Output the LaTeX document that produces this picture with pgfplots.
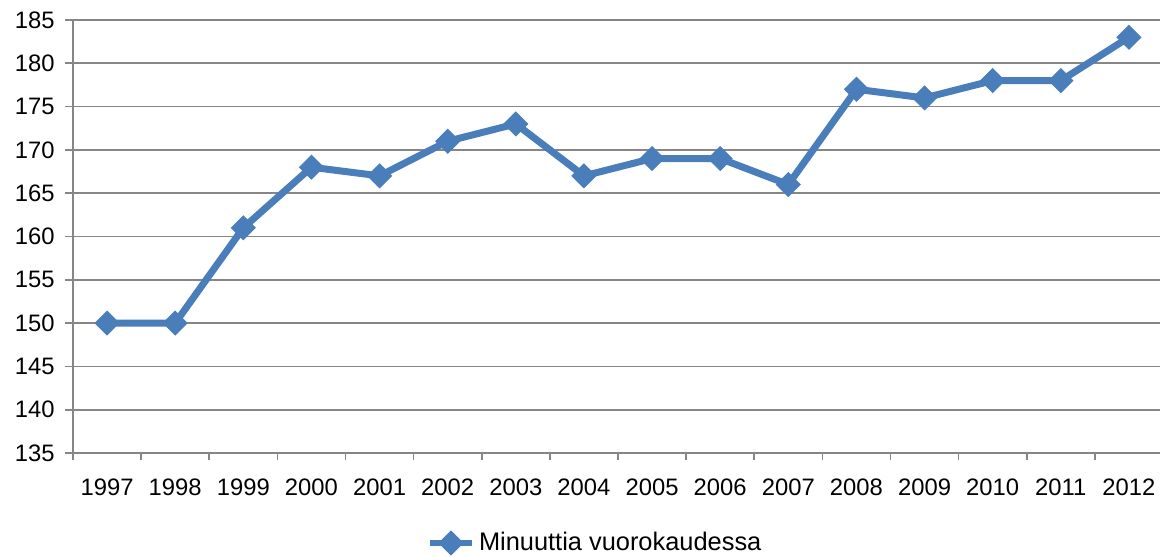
\documentclass[border=0pt]{standalone}
\usepackage{pgfplots}
\pgfplotsset{compat=1.18}
\usepackage{fontspec}
\setmainfont{Liberation Sans}
\definecolor{serie}{RGB}{74,126,187}
\definecolor{gridgray}{RGB}{134,134,134}
\begin{document}
\fontsize{11.9pt}{14pt}\selectfont
\begin{tikzpicture}
  \begin{axis}[
    scale only axis,
    width=545pt, height=216.5pt,
    at={(0,0)}, anchor=south west,
    xmin=-0.5, xmax=15.5,
    ymin=135, ymax=185,
    ytick={135,140,...,185},
    xtick={0,...,15},
    xticklabels={1997,1998,1999,2000,2001,2002,2003,2004,2005,2006,2007,2008,2009,2010,2011,2012},
    minor xtick={-0.5,0.5,...,15.5},
    axis x line*=bottom, axis y line*=left,
    axis line style={gridgray, line width=0.8pt},
    tick align=outside,
    x tick style={draw=none},
    minor x tick style={draw=gridgray, line width=0.8pt},
    y tick style={draw=gridgray, line width=0.8pt},
    major tick length=4pt, minor tick length=3.5pt,
    xmajorgrids=false, xminorgrids=false,
    ymajorgrids=true, major grid style={draw=gridgray, line width=0.8pt},
    /pgf/number format/assume math mode=true,
    /pgf/number format/1000 sep={},
    xticklabel style={yshift=-5pt},
    yticklabel style={xshift=-1pt},
    every tick label/.append style={font=\fontsize{11.9pt}{14pt}\selectfont},
    legend style={at={(0.48,0)}, anchor=center, yshift=-45pt, draw=none,
      font=\fontsize{12.7pt}{15pt}\selectfont, inner sep=0pt},
    legend cell align=left,
    legend image code/.code={%
      \draw[#1, line width=3pt, mark repeat=2, mark phase=2]
        plot coordinates {(0pt,0pt) (10.5pt,0pt) (21pt,0pt)};},
    clip=false,
  ]
    \addplot[serie, line width=3.5pt, mark=square*, mark size=4.2pt,
      mark options={solid, rotate=45, line width=0.5pt, fill=serie}]
      coordinates {(0,150) (1,150) (2,161) (3,168) (4,167) (5,171) (6,173) (7,167)
                   (8,169) (9,169) (10,166) (11,177) (12,176) (13,178) (14,178) (15,183)};
    \addlegendentry{Minuuttia vuorokaudessa}
  \end{axis}
  \pgfresetboundingbox
  \path (-36.5pt,-51.5pt) rectangle (543.5pt,226.5pt);
\end{tikzpicture}
\end{document}
